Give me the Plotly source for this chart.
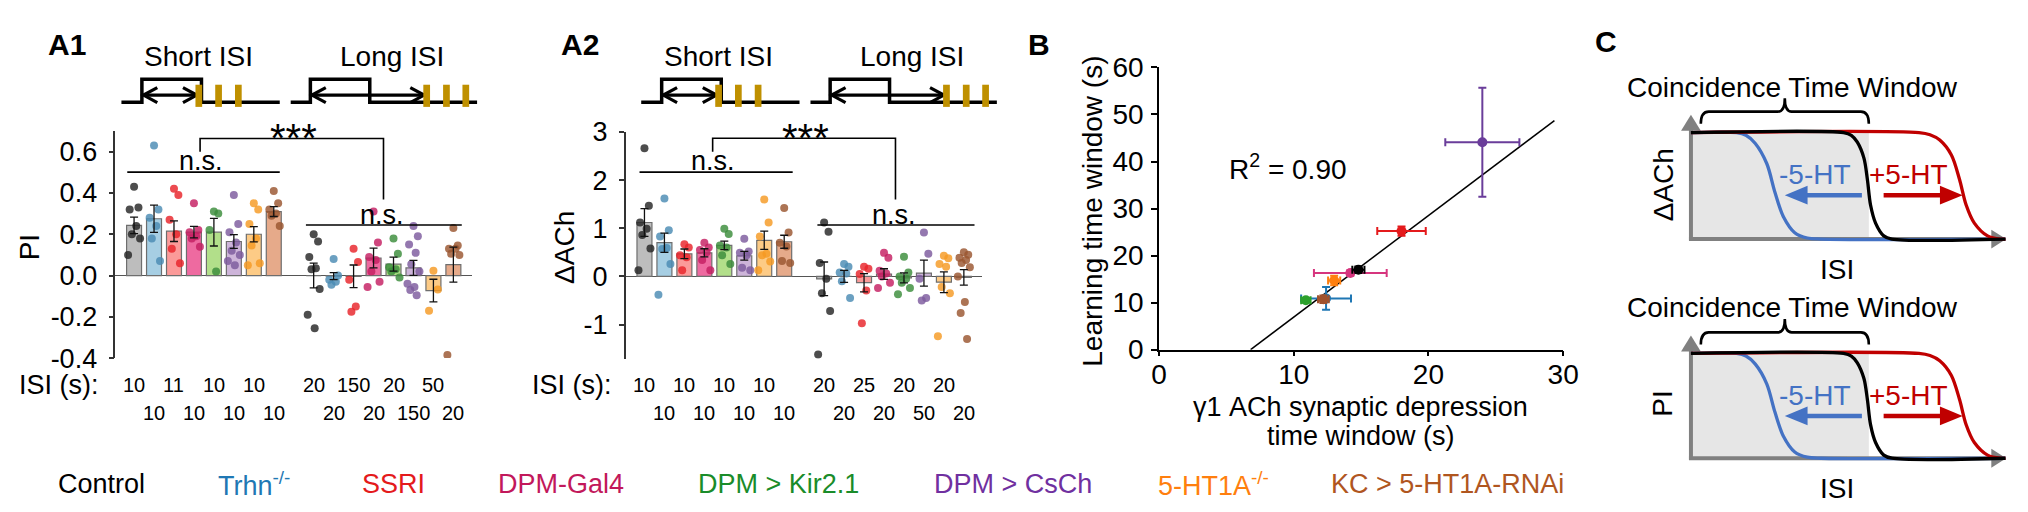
import plotly.graph_objects as go

W, H = 2028, 512
FONT = "Liberation Sans, Arial, Helvetica, sans-serif"

# ---------------- data ----------------
groups = ["Control", "Trhn<sup>-/-</sup>", "SSRI", "DPM-Gal4", "DPM > Kir2.1",
          "DPM > CsCh", "5-HT1A<sup>-/-</sup>", "KC > 5-HT1A-RNAi"]
text_colors = ["#000000", "#1F78B4", "#E41A1C", "#C2185B", "#1A8C2A", "#7030A0", "#FF7F0E", "#B0561F"]
dot_colors = ["#262626", "#4A8BB3", "#E8232A", "#C41E62", "#3A8C3A", "#7D5A9D", "#F59A23", "#9A5530"]
bar_colors = ["#BDBDBD", "#A6CEE3", "#FB9A99", "#EE6AA0", "#B2DF8A", "#CDB4D9", "#FDCB86", "#E6AA8A"]

# A1: PI
a1_short_mean = [0.243, 0.275, 0.215, 0.21, 0.21, 0.165, 0.20, 0.31]
a1_short_sem = [0.04, 0.066, 0.05, 0.028, 0.067, 0.033, 0.037, 0.024]
a1_long_mean = [0.0, -0.003, -0.004, 0.085, 0.055, 0.037, -0.073, 0.053]
a1_long_sem = [0.06, 0.017, 0.055, 0.048, 0.034, 0.036, 0.055, 0.085]
a1_short_pts = [
    [0.43, 0.33, 0.32, 0.24, 0.20, 0.18, 0.10],
    [0.63, 0.32, 0.28, 0.24, 0.18, 0.07],
    [0.42, 0.39, 0.27, 0.20, 0.13, 0.06],
    [0.35, 0.22, 0.21, 0.19, 0.18, 0.14],
    [0.31, 0.30, 0.22, 0.02],
    [0.39, 0.25, 0.21, 0.16, 0.12, 0.10, 0.07, 0.05],
    [0.35, 0.32, 0.25, 0.18, 0.145, 0.06, 0.05],
    [0.41, 0.35, 0.32, 0.30, 0.29, 0.24],
]
a1_long_pts = [
    [0.20, 0.165, 0.09, 0.035, 0.03, -0.065, -0.19, -0.255],
    [0.08, 0.0, -0.02, -0.03, -0.045],
    [0.13, 0.065, -0.02, -0.15, -0.175],
    [0.31, 0.16, 0.09, 0.075, 0.02, -0.03, -0.055],
    [0.18, 0.105, 0.04, 0.03, 0.02, -0.01],
    [0.24, 0.19, 0.15, 0.11, 0.055, 0.02, -0.04, -0.055, -0.07, -0.095],
    [0.023, -0.068, -0.17],
    [0.23, 0.145, 0.13, 0.13, 0.105, 0.10, -0.385],
]
a1_short_isi = ["10", "10", "11", "10", "10", "10", "10", "10"]
a1_long_isi = ["20", "20", "150", "20", "20", "150", "50", "20"]
a1_yticks = [-0.4, -0.2, 0.0, 0.2, 0.4, 0.6]
a1_yticktext = ["-0.4", "-0.2", "0.0", "0.2", "0.4", "0.6"]

# A2: delta ACh
a2_short_mean = [1.12, 0.70, 0.47, 0.49, 0.645, 0.43, 0.75, 0.72]
a2_short_sem = [0.29, 0.2, 0.1, 0.085, 0.09, 0.09, 0.19, 0.135]
a2_long_mean = [-0.05, 0.0, -0.13, 0.05, -0.03, 0.07, -0.12, -0.02]
a2_long_sem = [0.35, 0.125, 0.19, 0.11, 0.105, 0.27, 0.215, 0.16]
a2_short_pts = [
    [2.66, 1.47, 1.12, 0.99, 0.86, 0.58, 0.13],
    [1.62, 0.96, 0.83, 0.59, 0.57, 0.26, -0.38],
    [0.67, 0.60, 0.44, 0.40, 0.13],
    [0.70, 0.60, 0.55, 0.50, 0.34, 0.13],
    [0.99, 0.88, 0.64, 0.60, 0.44, 0.26],
    [0.78, 0.52, 0.49, 0.44, 0.18, 0.13],
    [1.60, 1.12, 0.83, 0.47, 0.44, 0.31, 0.13],
    [1.42, 0.91, 0.70, 0.62, 0.32, 0.28],
]
a2_long_pts = [
    [1.12, 0.93, 0.28, -0.05, -0.35, -0.72, -1.62],
    [0.26, 0.20, 0.08, 0.06, -0.10, -0.45],
    [0.20, 0.16, 0.05, -0.29, -0.97],
    [0.49, 0.39, 0.12, 0.06, 0.0, -0.13, -0.24],
    [0.41, 0.08, 0.0, -0.05, -0.13, -0.24, -0.37],
    [0.91, 0.47, -0.05, -0.45, -0.50],
    [0.43, 0.38, 0.26, 0.20, -0.22, -0.35, -1.24],
    [0.50, 0.45, 0.39, 0.34, 0.28, 0.19, 0.0, -0.53, -0.76, -1.30],
]
a2_short_isi = ["10", "10", "10", "10", "10", "10", "10", "10"]
a2_long_isi = ["20", "20", "25", "20", "20", "50", "20", "20"]
a2_yticks = [-1, 0, 1, 2, 3]

# B: time windows
b_order = [5, 2, 3, 0, 6, 1, 7, 4]   # drawing order (group index)
b_x = [14.8, 12.4, 18.0, 14.2, 10.9, 24.0, 13.0, 12.2]
b_y = [17.0, 10.9, 25.2, 16.3, 10.5, 44.1, 14.7, 10.7]
b_xerr = [0.45, 1.85, 1.8, 2.7, 0.35, 2.75, 0.45, 0.4]
b_yerr = [0.7, 2.4, 1.0, 0.6, 0.5, 11.6, 1.0, 0.8]
b_colors = ["#000000", "#1F77B4", "#E41A1C", "#D6357E", "#2CA02C", "#6A3D9A", "#FF7F0E", "#A0522D"]
fit_x = [6.8, 29.35]
fit_y = [0.0, 48.7]
b_ticks_x = [0, 10, 20, 30]
b_ticks_y = [0, 10, 20, 30, 40, 50, 60]

# C: schematic curves (ISI units 0-10, normalized response 0-1)
c_blue_x = [0, 1.45, 1.75, 2.04, 2.41, 2.67, 2.94, 3.30, 3.7, 4.14, 10]
c_blue_y = [1, 1.0, 0.975, 0.90, 0.71, 0.44, 0.21, 0.06, 0.01, 0, 0]
c_black_x = [0, 4.85, 5.1, 5.29, 5.50, 5.61, 5.71, 5.87, 6.13, 6.39, 10]
c_black_y = [1, 1.0, 0.975, 0.91, 0.76, 0.56, 0.32, 0.15, 0.03, 0, 0]
c_red_x = [0, 7.25, 7.6, 7.91, 8.28, 8.54, 8.75, 9.01, 9.43, 9.85, 10]
c_red_y = [1, 1.0, 0.98, 0.93, 0.79, 0.56, 0.32, 0.15, 0.03, 0, 0]

# ---------------- helpers ----------------
def fx(px):
    return px / W


def fy(py):
    return 1 - py / H


def dom_x(a, b):
    return [a / W, b / W]


def dom_y(top, bottom):
    return [1 - bottom / H, 1 - top / H]


def P(px, py):
    return f"{fx(px):.5f},{fy(py):.5f}"


def poly(points):
    return "M " + " L ".join(P(a, b) for a, b in points)


fig = go.Figure()
shapes = []
annos = []


def txt(px, py, text, size=27, color="black", xa="center", ya="middle", angle=0, bold=False, xref="paper", xval=None):
    annos.append(dict(
        x=(fx(px) if xval is None else xval), y=fy(py), xref=xref, yref="paper",
        text=(f"<b>{text}</b>" if bold else text), showarrow=False,
        font=dict(family=FONT, size=size, color=color), xanchor=xa, yanchor=ya,
        textangle=angle, borderpad=0, borderwidth=0))


def line_shape(path, color="black", width=1.5, layer="above"):
    shapes.append(dict(type="path", path=path, xref="paper", yref="paper",
                       line=dict(color=color, width=width), layer=layer))


def fill_shape(path, color, layer="above"):
    shapes.append(dict(type="path", path=path + " Z", xref="paper", yref="paper",
                       line=dict(width=0), fillcolor=color, layer=layer))


JIT = [0.0, 0.22, -0.22, 0.11, -0.11, 0.3, -0.3, 0.05, -0.16, 0.16]
BAR_W = 0.75
short_pos = list(range(8))
long_pos = [9 + i for i in range(8)]


def add_bar_panel(xa, ya, s_mean, s_sem, l_mean, l_sem, s_pts, l_pts):
    pos = short_pos + long_pos
    means = s_mean + l_mean
    sems = s_sem + l_sem
    fig.add_trace(go.Bar(x=pos, y=means, width=BAR_W,
                         marker=dict(color=bar_colors + bar_colors, line=dict(color="#6E6E6E", width=1.2)),
                         xaxis=xa, yaxis=ya, showlegend=False, hoverinfo="skip"))
    xs, ys, cs = [], [], []
    for p, pts, c in zip(pos, s_pts + l_pts, dot_colors + dot_colors):
        for k, v in enumerate(pts):
            xs.append(p + JIT[k % len(JIT)])
            ys.append(v)
            cs.append(c)
    fig.add_trace(go.Scatter(x=xs, y=ys, mode="markers",
                             marker=dict(size=8, color=cs, opacity=0.82, line=dict(width=0)),
                             xaxis=xa, yaxis=ya, showlegend=False, hoverinfo="skip"))
    fig.add_trace(go.Scatter(x=pos, y=means, mode="markers", marker=dict(size=1, opacity=0),
                             error_y=dict(type="data", array=sems, color="#111111", thickness=1.3, width=4),
                             xaxis=xa, yaxis=ya, showlegend=False, hoverinfo="skip"))


add_bar_panel("x", "y", a1_short_mean, a1_short_sem, a1_long_mean, a1_long_sem, a1_short_pts, a1_long_pts)
add_bar_panel("x2", "y2", a2_short_mean, a2_short_sem, a2_long_mean, a2_long_sem, a2_short_pts, a2_long_pts)

# ---- B ----
fig.add_trace(go.Scatter(x=fit_x, y=fit_y, mode="lines", line=dict(color="black", width=1.5),
                         xaxis="x3", yaxis="y3", showlegend=False, hoverinfo="skip"))
for i in b_order:
    fig.add_trace(go.Scatter(
        x=[b_x[i]], y=[b_y[i]], mode="markers",
        marker=dict(size=10, color=b_colors[i]),
        error_x=dict(type="data", array=[b_xerr[i]], color=b_colors[i], thickness=2, width=4),
        error_y=dict(type="data", array=[b_yerr[i]], color=b_colors[i], thickness=2, width=4),
        xaxis="x3", yaxis="y3", showlegend=False, hoverinfo="skip"))

# ---- C ----
CX0, CXU = 1695.0, 31.83
C_PANELS = [("x4", "y4", 116.7, 230.0), ("x5", "y5", 351.7, 463.3)]
for xa, ya, T, B in C_PANELS:
    for cx, cy, col in [(c_blue_x, c_blue_y, "#4472C4"), (c_red_x, c_red_y, "#C00000"),
                        (c_black_x, c_black_y, "#000000")]:
        fig.add_trace(go.Scatter(x=cx, y=cy, mode="lines",
                                 line=dict(color=col, width=3.3, shape="spline", smoothing=0.9),
                                 xaxis=xa, yaxis=ya, showlegend=False, hoverinfo="skip"))

# ---------------- schematics (A) ----------------
GOLD = "#BF9000"
for dx in (0, 526):
    s_path = [(106.7, 84.3), (127.4, 84.3), (127.4, 60), (187.7, 60), (187.7, 84.3), (266.9, 84.3)]
    l_path = [(278, 84.3), (297.9, 84.3), (297.9, 60), (358, 60), (358, 84.3), (466.6, 84.3)]
    for pth in (s_path, l_path):
        line_shape(poly([(a + dx, b) for a, b in pth]), width=3.5)
    for x1, x2 in ((129, 183), (299.5, 413)):
        yA = 76.7
        line_shape(poly([(x1 + dx, yA), (x2 + dx, yA)]), width=3.2)
        line_shape(poly([(x1 + 14 + dx, yA - 8), (x1 + dx, yA), (x1 + 14 + dx, yA + 8)]), width=3.2)
        line_shape(poly([(x2 - 14 + dx, yA - 8), (x2 + dx, yA), (x2 - 14 + dx, yA + 8)]), width=3.2)
    for bx in (185, 205, 225, 415.6, 435.6, 455.2):
        fill_shape(poly([(bx - 3.4 + dx, 65.7), (bx + 3.4 + dx, 65.7), (bx + 3.4 + dx, 89.3), (bx - 3.4 + dx, 89.3)]), GOLD)

# significance marks
for (s1, s2, l1, l2, b1, b2, bt, nsx1, nsx2, stx) in [
        (112.6, 266.9, 293.4, 451.1, 186.3, 371.9, 123, 187, 370, 280.6),
        (631, 786, 811, 970, 705, 890, 122.7, 705, 889, 799)]:
    line_shape(poly([(s1, 158.7), (s2, 158.7)]), width=1.6)
    line_shape(poly([(l1, 215), (l2, 215)]), width=1.6)
    line_shape(poly([(b1, 137), (b1, bt), (b2, bt), (b2, 188)]), width=1.6)
    txt(nsx1, 147.3, "n.s.")
    txt(nsx2, 204, "n.s.")
    txt(stx, 122.7, "***", size=40)

# ---------------- C decorations ----------------
GRAY = "#808080"
for xa, ya, T, B in C_PANELS:
    fill_shape(poly([(1695, T), (1875, T), (1875, B), (1695, B)]), "#E6E6E6", layer="below")
    line_shape(poly([(1695, B + 1.5), (1695, T - 3)]), color=GRAY, width=4, layer="below")
    fill_shape(poly([(1695, T - 19), (1685, T - 2), (1705, T - 2)]), GRAY, layer="below")
    line_shape(poly([(1693, B), (2001, B)]), color=GRAY, width=4, layer="below")
    fill_shape(poly([(2014, B), (1999, B - 10), (1999, B + 10)]), GRAY, layer="below")
    # curly bracket
    ye, yh, yp = T - 9.4, T - 22.4, T - 36.7
    x1, xm, x2 = 1705, 1790, 1875
    br = (f"M {P(x1, ye)} Q {P(x1, yh)} {P(x1 + 8, yh)} L {P(xm - 7, yh)} "
          f"Q {P(xm, yh)} {P(xm, yp)} Q {P(xm, yh)} {P(xm + 7, yh)} L {P(x2 - 8, yh)} "
          f"Q {P(x2, yh)} {P(x2, ye)}")
    line_shape(br, width=2.6)
    # shift arrows
    ya_ = T + 66.6
    line_shape(poly([(1868, ya_), (1810, ya_)]), color="#4472C4", width=4.5)
    fill_shape(poly([(1790, ya_), (1813, ya_ - 10), (1813, ya_ + 10)]), "#4472C4")
    line_shape(poly([(1890, ya_), (1950, ya_)]), color="#C00000", width=4.5)
    fill_shape(poly([(1970, ya_), (1947, ya_ - 10), (1947, ya_ + 10)]), "#C00000")
    txt(1797.5, T - 48.5, "Coincidence Time Window", size=28)
    txt(1820.5, T + 45, "-5-HT", size=28, color="#4472C4")
    txt(1915.5, T + 45, "+5-HT", size=28, color="#C00000")
    txt(1843, B + 32, "ISI", size=28)
txt(1667, 172.5, "ΔACh", size=28, angle=-90)
txt(1666, 405, "PI", size=28, angle=-90)

# ---------------- text ----------------
txt(51.5, 23.3, "A1", size=30, bold=True)
txt(571, 23.3, "A2", size=30, bold=True)
txt(1035, 22.5, "B", size=30, bold=True)
txt(1609, 20, "C", size=30, bold=True)
for dx in (0, 526):
    txt(185 + dx, 36, "Short ISI", size=28)
    txt(381 + dx, 36, "Long ISI", size=28)
txt(84.4, 385.6, "ISI (s):", size=27, xa="right")
txt(603, 385.6, "ISI (s):", size=27, xa="right")
txt(14, 239, "PI", size=28, angle=-90)
txt(555, 239, "ΔACh", size=28, angle=-90)

for xr, s_isi, l_isi in (("x", a1_short_isi, a1_long_isi), ("x2", a2_short_isi, a2_long_isi)):
    for p, lab in zip(short_pos + long_pos, s_isi + l_isi):
        row_y = 385.6 if (p % 9) % 2 == 0 else 415.6
        txt(0, row_y, lab, size=20, xref=xr, xval=p)

# B texts
txt(1228, 153.5, "R<sup>2</sup> = 0.90", size=28, xa="left")
txt(1090, 200.8, "Learning time window (s)", size=28, angle=-90)
txt(1361, 409, "γ1 ACh synaptic depression", size=27)
txt(1361, 440, "time window (s)", size=27)

# legend
leg_x = [42.7, 204, 350, 488, 690, 929, 1156, 1331]
for lx, g, c in zip(leg_x, groups, text_colors):
    txt(lx, 491, g, size=27, color=c, xa="left")

# ---------------- layout ----------------
def bar_yaxis(dom, rng, tv, tt, anchor):
    return dict(domain=dom, range=rng, anchor=anchor, showline=True, linecolor="#333333", linewidth=1.5,
                ticks="outside", ticklen=5, tickwidth=1.5, tickcolor="#333333", tickvals=tv, ticktext=tt,
                showgrid=False, zeroline=True, zerolinecolor="#555555", zerolinewidth=1.4,
                tickfont=dict(family=FONT, size=27, color="black"), ticklabelstandoff=6)


hidden = dict(visible=False, showgrid=False, zeroline=False, fixedrange=True)

fig.update_layout(
    width=W, height=H, autosize=False, margin=dict(l=0, r=0, t=0, b=0, pad=0),
    paper_bgcolor="white", plot_bgcolor="rgba(0,0,0,0)", barmode="overlay",
    font=dict(family=FONT, color="black"),
    xaxis=dict(domain=dom_x(100.5, 461.4), range=[-0.94, 16.93], anchor="y", **hidden),
    yaxis=bar_yaxis(dom_y(115, 356.7), [-0.4, 0.7], a1_yticks, a1_yticktext, "x"),
    xaxis2=dict(domain=dom_x(617, 978), range=[-0.94, 16.93], anchor="y2", **hidden),
    yaxis2=bar_yaxis(dom_y(116, 357.3), [-1.708, 3.0], a2_yticks, [str(v) for v in a2_yticks], "x2"),
    xaxis3=dict(domain=dom_x(1156.7, 1565.7), range=[0, 30], anchor="y3", showline=True, linecolor="black",
                linewidth=1.5, ticks="outside", ticklen=5, tickwidth=1.5, tickcolor="black",
                tickvals=b_ticks_x, showgrid=False, zeroline=False, ticklabelstandoff=-6,
                tickfont=dict(family=FONT, size=28, color="black")),
    yaxis3=dict(domain=dom_y(47.3, 347.7), range=[0, 60], anchor="x3", showline=True, linecolor="black",
                linewidth=1.5, ticks="outside", ticklen=6, tickwidth=1.5, tickcolor="black",
                tickvals=b_ticks_y, showgrid=False, zeroline=False,
                tickfont=dict(family=FONT, size=28, color="black"), ticklabelstandoff=2),
    xaxis4=dict(domain=dom_x(1685, 2020), range=[(1685 - CX0) / CXU, (2020 - CX0) / CXU], anchor="y4", **hidden),
    yaxis4=dict(domain=dom_y(100, 240), range=[(230 - 240) / (230 - 116.7), (230 - 100) / (230 - 116.7)],
                anchor="x4", **hidden),
    xaxis5=dict(domain=dom_x(1685, 2020), range=[(1685 - CX0) / CXU, (2020 - CX0) / CXU], anchor="y5", **hidden),
    yaxis5=dict(domain=dom_y(335, 473), range=[(463.3 - 473) / (463.3 - 351.7), (463.3 - 335) / (463.3 - 351.7)],
                anchor="x5", **hidden),
    shapes=shapes,
    annotations=annos,
)

fig.write_html("out.html", config={"displayModeBar": False})
